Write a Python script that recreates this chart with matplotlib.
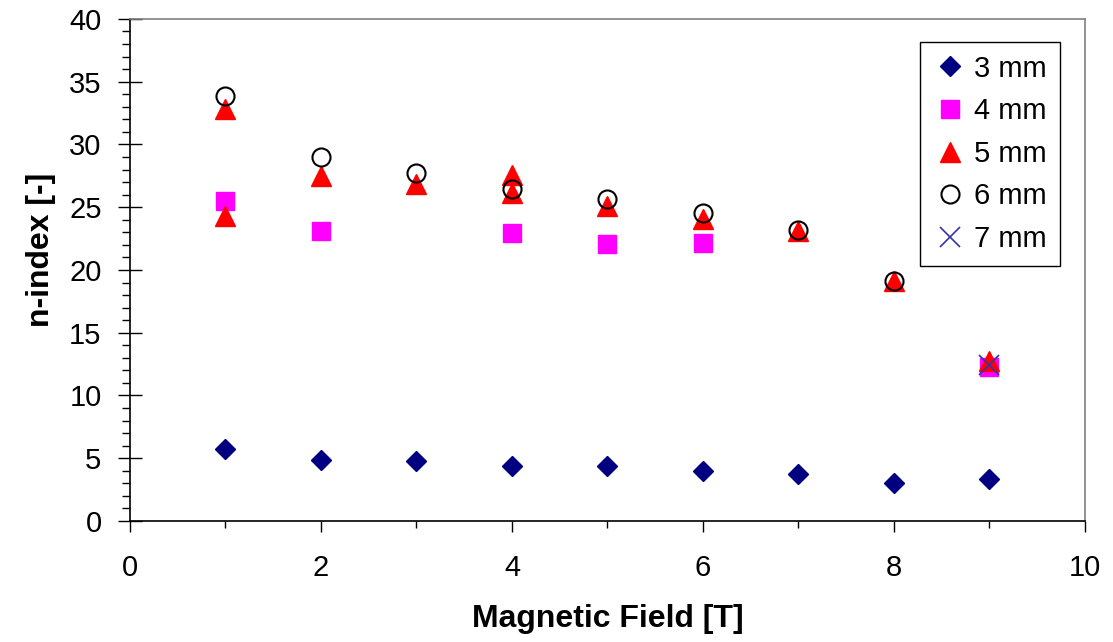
import matplotlib
matplotlib.use("Agg")
import matplotlib.pyplot as plt
from matplotlib.ticker import MultipleLocator

plt.rcParams['font.family'] = ['Liberation Sans', 'DejaVu Sans']

# Data
x_3mm = [1, 2, 3, 4, 5, 6, 7, 8, 9]
y_3mm = [5.74, 4.86, 4.78, 4.38, 4.38, 3.98, 3.75, 3.03, 3.35]

x_4mm = [1, 2, 4, 5, 6, 9]
y_4mm = [25.5, 23.1, 22.95, 22.07, 22.15, 12.27]

x_5mm = [1, 1, 2, 3, 4, 4, 5, 6, 7, 8, 9]
y_5mm = [32.8, 24.3, 27.5, 26.85, 27.57, 26.1, 25.1, 24.06, 23.1, 19.1, 12.75]

x_6mm = [1, 2, 3, 4, 5, 6, 7, 8]
y_6mm = [33.9, 29.0, 27.7, 26.45, 25.65, 24.5, 23.2, 19.1]

x_7mm = [9]
y_7mm = [12.4]

labels = ["3 mm", "4 mm", "5 mm", "6 mm", "7 mm"]

fig = plt.figure(figsize=(11.13, 6.42), dpi=100)
ax = fig.add_axes([0.1168, 0.1885, 0.858, 0.782])

ax.plot(x_3mm, y_3mm, linestyle='none', marker='D', markersize=10.5,
        color='#000080', label=labels[0])
ax.plot(x_4mm, y_4mm, linestyle='none', marker='s', markersize=13,
        color='#FF00FF', label=labels[1])
ax.plot(x_5mm, y_5mm, linestyle='none', marker='^', markersize=15,
        color='#FF0000', label=labels[2])
ax.plot(x_6mm, y_6mm, linestyle='none', marker='o', markersize=13,
        markerfacecolor='none', markeredgecolor='black', markeredgewidth=1.5,
        label=labels[3])
ax.plot(x_7mm, y_7mm, linestyle='none', marker='x', markersize=14,
        markeredgewidth=1.2, color='#3333AA', label=labels[4])

ax.set_xlim(0, 10)
ax.set_ylim(0, 40)
ax.xaxis.set_major_locator(MultipleLocator(2))
ax.xaxis.set_minor_locator(MultipleLocator(1))
ax.yaxis.set_major_locator(MultipleLocator(5))
ax.yaxis.set_minor_locator(MultipleLocator(1))

ax.tick_params(axis='y', which='major', direction='inout', length=17, width=1,
               labelsize=21, pad=12)
ax.tick_params(axis='y', which='minor', direction='out', length=6, width=1)
ax.tick_params(axis='x', which='major', direction='out', length=8, width=1,
               labelsize=21, pad=16)
ax.tick_params(axis='x', which='minor', direction='out', length=5, width=1)

for s in ['left', 'bottom']:
    ax.spines[s].set_color('black')
    ax.spines[s].set_linewidth(1.2)
for s in ['top', 'right']:
    ax.spines[s].set_color('#808080')
    ax.spines[s].set_linewidth(1.2)

ax.set_xlabel('Magnetic Field [T]', fontsize=23, fontweight='bold')
ax.set_ylabel('n-index [-]', fontsize=23, fontweight='bold')
ax.xaxis.set_label_coords(0.5, -0.165)
ax.yaxis.set_label_coords(-0.077, 0.54)

leg = ax.legend(loc='upper right', bbox_to_anchor=(0.974, 0.955), fontsize=21,
                frameon=True, fancybox=False, edgecolor='black', framealpha=1,
                handletextpad=0.3, handlelength=1.1, borderpad=0.45,
                labelspacing=0.5, borderaxespad=0)
leg.get_frame().set_linewidth(1.0)

fig.savefig('out.png', dpi=100)
